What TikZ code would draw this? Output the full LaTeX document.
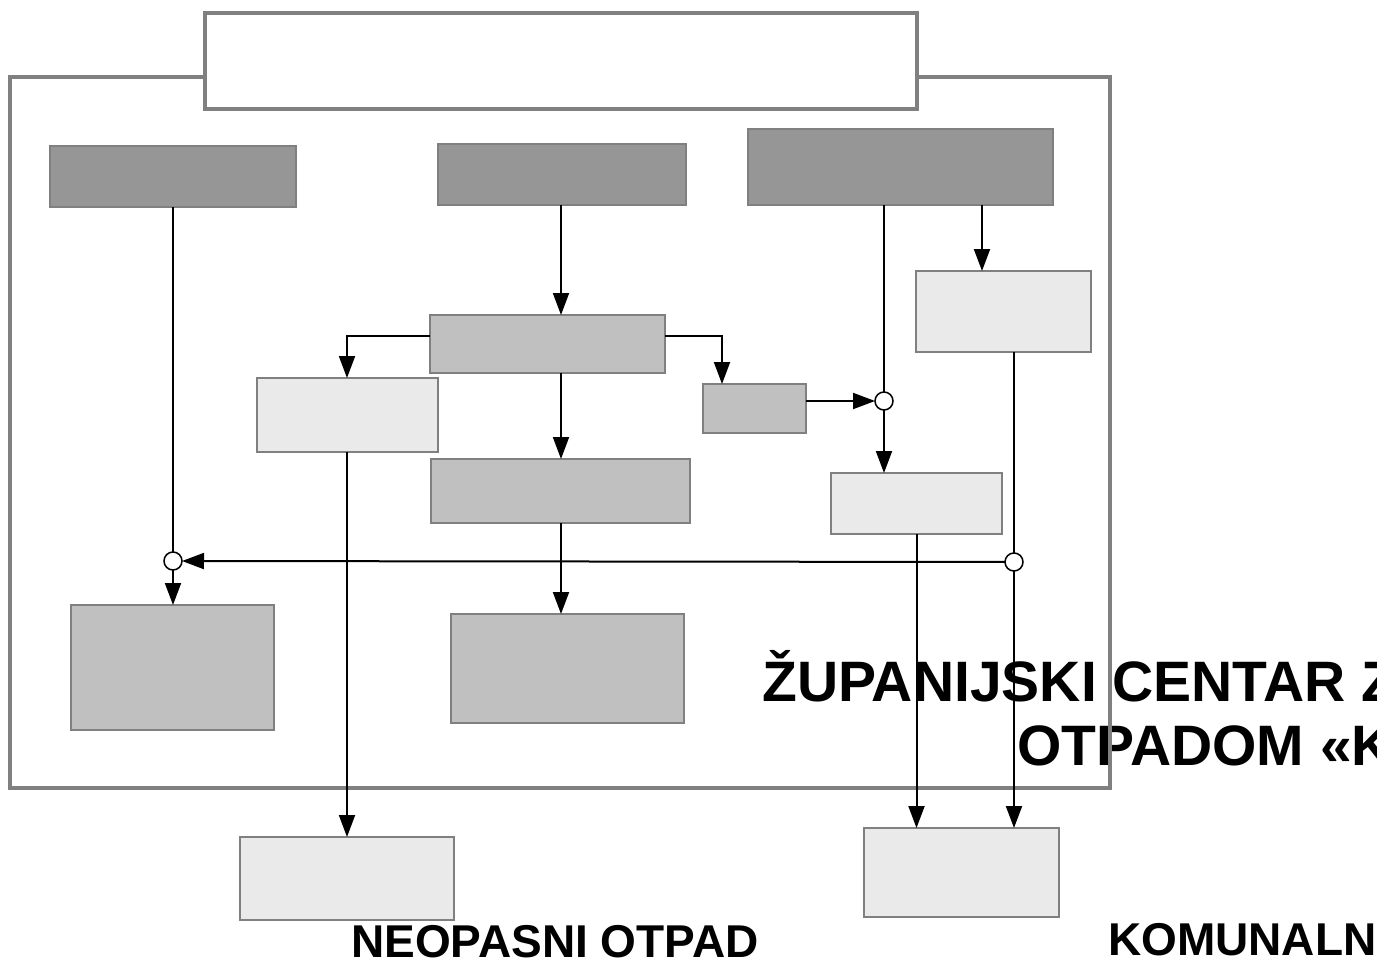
\documentclass[tikz,border=0pt]{standalone}
\usepackage{fontspec}
\setmainfont{Liberation Sans}
\usetikzlibrary{arrows.meta}
\definecolor{boxdark}{HTML}{969696}
\definecolor{boxmid}{HTML}{C0C0C0}
\definecolor{boxlight}{HTML}{EAEAEA}
\definecolor{edgegray}{HTML}{808080}
\tikzset{
  bx/.style={draw=edgegray, line width=2pt, rectangle, inner sep=0pt, outer sep=0pt},
  dark/.style={bx, fill=boxdark},
  mid/.style={bx, fill=boxmid},
  light/.style={bx, fill=boxlight},
  junc/.style={draw=black, fill=white, circle, line width=1.5pt, minimum size=18pt, inner sep=0pt, outer sep=0pt},
  arr/.style={draw=black, line width=2pt, -{Triangle[length=22pt,width=16pt]}},
  ln/.style={draw=black, line width=2pt},
  bigtxt/.style={inner sep=0pt, font=\bfseries\fontsize{57}{65}\selectfont},
  midtxt/.style={inner sep=0pt, font=\bfseries\fontsize{46}{52}\selectfont}
}
\begin{document}
\begin{tikzpicture}[x=1pt,y=-1pt]
\useasboundingbox (0,0) rectangle (1377,961);
\fill[white] (0,0) rectangle (1377,961);
% texts
\node[bigtxt, anchor=base west] (t1) at (762,701) {ŽUPANIJSKI CENTAR Z};
\node[bigtxt, anchor=base west] (t2) at (1017,765) {OTPADOM «K};
\node[midtxt, anchor=base west] (t3) at (351,957) {NEOPASNI OTPAD};
\node[midtxt, anchor=base west] (t4) at (1108,955) {KOMUNALN};
% frame
\node[draw=edgegray, line width=3.5pt, minimum width=1100pt, minimum height=711pt, inner sep=0pt] (frame) at (560,432.5) {};
\node[draw=edgegray, fill=white, line width=3.5pt, minimum width=712pt, minimum height=96pt, inner sep=0pt] (title) at (561,61) {};
% boxes
\node[dark, minimum width=246pt, minimum height=61pt] (A) at (173,176.5) {};
\node[dark, minimum width=248pt, minimum height=61pt] (B) at (562,174.5) {};
\node[dark, minimum width=305pt, minimum height=76pt] (C) at (900.5,167) {};
\node[mid, minimum width=235pt, minimum height=58pt] (D) at (547.5,344) {};
\node[mid, minimum width=103pt, minimum height=49pt] (E) at (754.5,408.5) {};
\node[mid, minimum width=259pt, minimum height=64pt] (F) at (560.5,491) {};
\node[mid, minimum width=203pt, minimum height=125pt] (G) at (172.5,667.5) {};
\node[mid, minimum width=233pt, minimum height=109pt] (H) at (567.5,668.5) {};
\node[light, minimum width=181pt, minimum height=74pt] (I) at (347.5,415) {};
\node[light, minimum width=175pt, minimum height=81pt] (J) at (1003.5,311.5) {};
\node[light, minimum width=171pt, minimum height=61pt] (K) at (916.5,503.5) {};
\node[light, minimum width=214pt, minimum height=83pt] (L) at (347,878.5) {};
\node[light, minimum width=195pt, minimum height=89pt] (M) at (961.5,872.5) {};
% junctions
\node[junc] (c1) at (173,561) {};
\node[junc] (c2) at (884,401) {};
\node[junc] (c3) at (1014,562) {};
\coordinate (xj) at (982,0);
\coordinate (xe) at (722,0);
\coordinate (xi) at (347,0);
\coordinate (xd) at (561,0);
% connectors
\draw[ln] (A.south) -- (c1);
\draw[arr] (c1) -- (c1 |- G.north);
\draw[arr] (xd |- B.south) -- (xd |- D.north);
\draw[arr] ([yshift=8pt]D.west) -| (xi |- I.north);
\draw[arr] ([yshift=8pt]D.east) -| (xe |- E.north);
\draw[arr] (xd |- D.south) -- (xd |- F.north);
\draw[arr] (xd |- F.south) -- (xd |- H.north);
\draw[arr] (E.east |- c2) -- (c2);
\draw[ln] (c2 |- C.south) -- (c2);
\draw[arr] (c2) -- (c2 |- K.north);
\draw[arr] (xj |- C.south) -- (xj |- J.north);
\draw[ln] (c3 |- J.south) -- (c3);
\draw[arr] (c3) -- (c3 |- M.north);
\draw[arr] (c3) -- (c1);
\draw[arr] (K.south) -- (K.south |- M.north);
\draw[arr] (xi |- I.south) -- (xi |- L.north);
\end{tikzpicture}
\end{document}
